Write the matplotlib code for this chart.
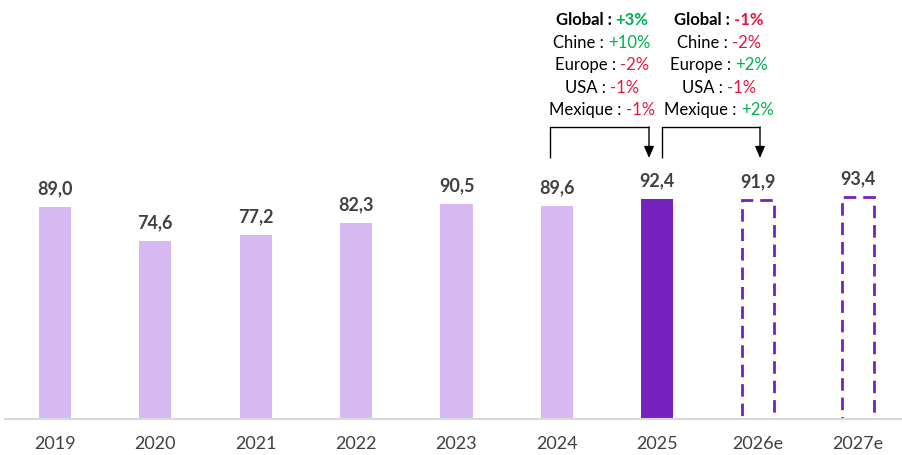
import matplotlib
matplotlib.use("Agg")
import matplotlib.pyplot as plt

years = ["2019", "2020", "2021", "2022", "2023", "2024", "2025", "2026e", "2027e"]
values = [89.0, 74.6, 77.2, 82.3, 90.5, 89.6, 92.4, 91.9, 93.4]
kinds = ["hist"] * 6 + ["current"] + ["forecast"] * 2

block1 = [("Global : ", "+3%"), ("Chine : ", "+10%"), ("Europe : ", "-2%"),
          ("USA : ", "-1%"), ("Mexique : ", "-1%")]
block2 = [("Global : ", "-1%"), ("Chine : ", "-2%"), ("Europe : ", "+2%"),
          ("USA : ", "-1%"), ("Mexique : ", "+2%")]

FONT = ["Lato", "DejaVu Sans"]
plt.rcParams["font.family"] = FONT

LIGHT = "#D5B9F0"
DARK = "#7421BE"
TXT = "#404040"
GREEN = "#00B050"
RED = "#E8173F"

W, H = 902, 455
fig = plt.figure(figsize=(W / 100, H / 100), dpi=100)
ax = fig.add_axes([5 / W, (H - 419) / H, (902 - 5) / W, 419 / H])

ppu = 100.375
x0 = 55
ax.set_xlim((5 - x0) / ppu, (902 - x0) / ppu)
ax.set_ylim(0, 419 / 2.38)

xs = list(range(len(years)))
bw = 0.32
for x, v, k in zip(xs, values, kinds):
    if k == "hist":
        ax.bar(x, v, width=bw, color=LIGHT, zorder=2)
    elif k == "current":
        ax.bar(x, v, width=bw, color=DARK, zorder=2)
    else:
        ax.bar(x, v, width=bw, facecolor="none", edgecolor=DARK, linewidth=2,
               linestyle=(0, (4.5, 2.5)), zorder=2)
    ax.annotate(f"{v:.1f}".replace(".", ","), (x, v), xytext=(0, 7),
                textcoords="offset points", ha="center", va="bottom",
                fontsize=13, fontweight="bold", color=TXT)

for s in ["top", "right", "left"]:
    ax.spines[s].set_visible(False)
ax.spines["bottom"].set_color("#D9D9D9")
ax.spines["bottom"].set_linewidth(1.5)
ax.spines["bottom"].set_zorder(3)
ax.set_yticks([])
ax.set_xticks(xs)
ax.set_xticklabels(years, fontsize=13, color=TXT)
ax.tick_params(axis="x", length=0, pad=12)

def px2y(p):
    return (419 - p) / 2.38

def px2x(p):
    return (p - x0) / ppu

# brackets with arrows
for (xl, xr) in [(550, 649), (662, 760)]:
    ytop = px2y(127)
    ybot = px2y(158)
    ax.plot([px2x(xl), px2x(xl), px2x(xr)], [ybot, ytop, ytop], color="black",
            lw=1, clip_on=False, solid_capstyle="butt")
    ax.annotate("", xy=(px2x(xr), ybot), xytext=(px2x(xr), ytop),
                arrowprops=dict(arrowstyle="-|>,head_length=0.7,head_width=0.3",
                                color="black", lw=1, shrinkA=0, shrinkB=0),
                annotation_clip=False)

fig.canvas.draw()
renderer = fig.canvas.get_renderer()
line_ys = [20, 43, 65, 88, 110]

def draw_block(cx_px, block):
    for i, ((lab, val), yp) in enumerate(zip(block, line_ys)):
        bold = "bold" if i == 0 else "normal"
        col = GREEN if val.startswith("+") else RED
        t1 = ax.text(0, px2y(yp), lab, fontsize=12, fontweight=bold, color="black",
                     ha="left", va="center")
        t2 = ax.text(0, px2y(yp), val, fontsize=12, fontweight=bold, color=col,
                     ha="left", va="center")
        w1 = t1.get_window_extent(renderer).width
        w2 = t2.get_window_extent(renderer).width
        left = cx_px - (w1 + w2) / 2
        t1.set_x(px2x(left))
        t2.set_x(px2x(left + w1))

draw_block(602, block1)
draw_block(719, block2)

fig.savefig("out.png", dpi=100)
